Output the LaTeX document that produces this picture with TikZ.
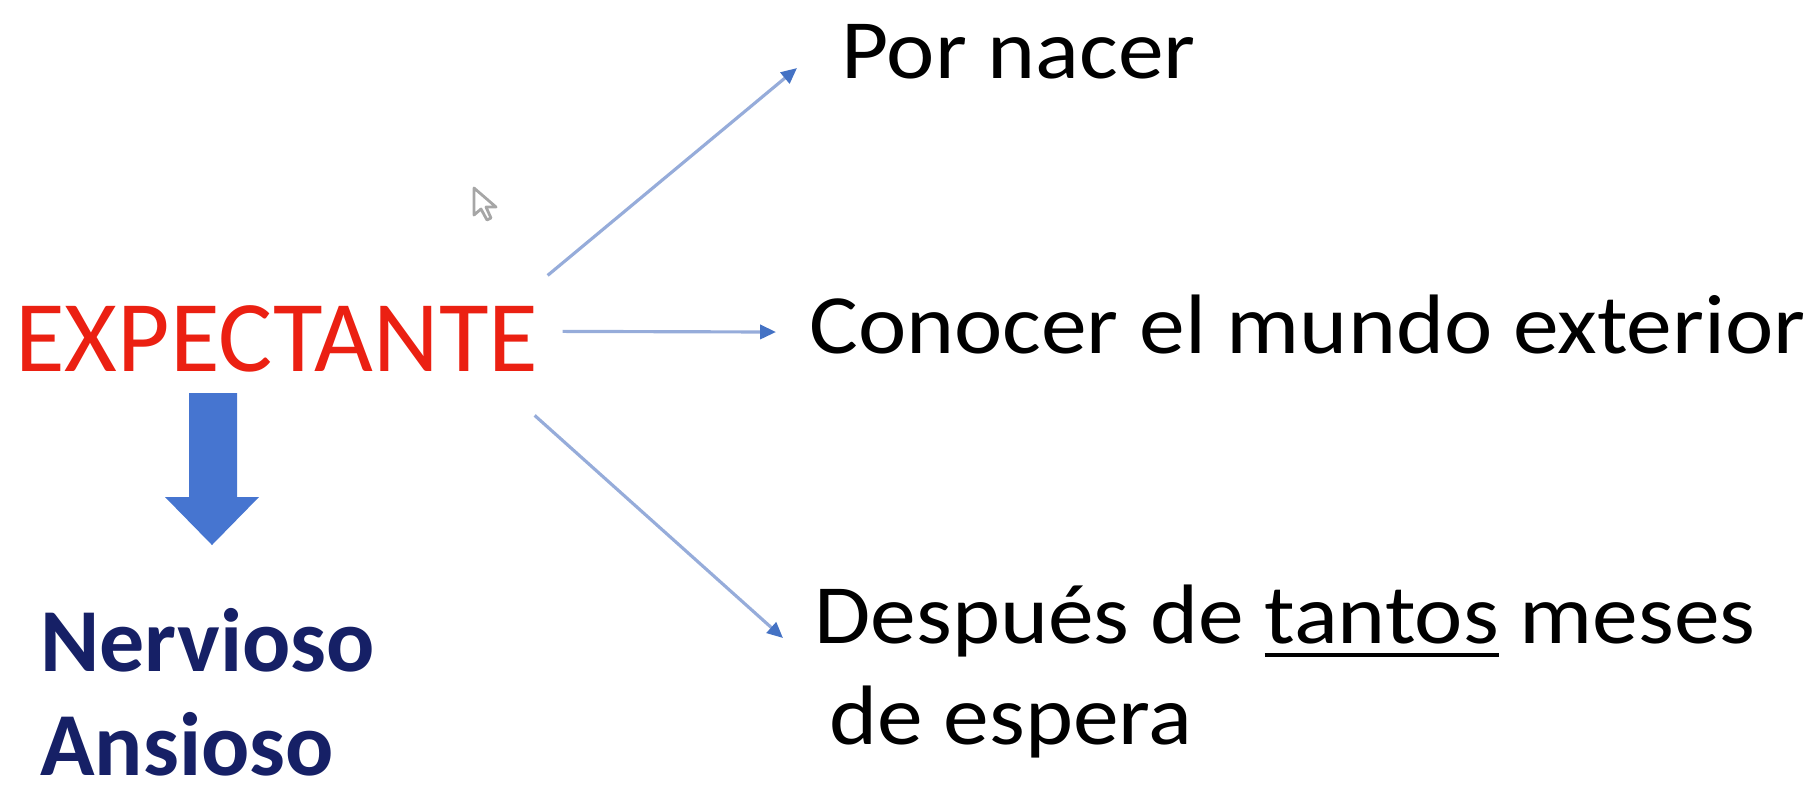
\documentclass[tikz,border=0pt]{standalone}
\usepackage{fontspec}
\setmainfont{Carlito}
\newfontfamily\slidefont[FakeStretch=1.085]{Carlito}
\usetikzlibrary{arrows.meta}

\definecolor{expred}{RGB}{235,32,18}
\definecolor{navy}{RGB}{22,32,102}
\definecolor{linkblue}{RGB}{150,172,218}
\definecolor{headblue}{RGB}{68,114,196}
\definecolor{bigblue}{RGB}{70,117,208}

\newcommand\undertext[1]{\setbox0\hbox{#1}\rlap{\rule[-4pt]{\wd0}{1.1pt}}\box0\relax}

\tikzset{
    reason/.style={anchor=base west, inner sep=0pt, font=\slidefont\fontsize{24pt}{28pt}\selectfont},
    mood/.style={anchor=base west, inner sep=0pt, text=navy, font=\fontsize{25.6pt}{30pt}\selectfont\bfseries},
    link/.style={draw=linkblue, line width=0.9pt, -{Triangle[length=4.5pt, width=4pt, color=headblue]}}
}

\begin{document}
\begin{tikzpicture}[thick, scale=1]
    \useasboundingbox (0,0) rectangle (18.18,-7.87);
    % main word
    \node[anchor=base west, inner sep=0pt, text=expred, font=\fontsize{28.9pt}{32pt}\selectfont] (expect) at (0.14,-3.71){EXPECTANTE};

    % the three reasons
    \node[reason] (nacer) at (8.40,-0.78){Por nacer};
    \node[reason] (mundo) at (8.08,-3.53){Conocer el mundo exterior};
    \node[reason] (meses) at (8.13,-6.43){Después de \undertext{tantos} meses};
    \node[reason] (espera) at (8.28,-7.44){de espera};

    \coordinate (tnacer) at (7.97,-0.68);
    \coordinate (tmundo) at (7.76,-3.32);
    \coordinate (tmeses) at (7.83,-6.38);

    \draw[link] ([shift={(0.08,0.63)}]expect.east) -- (tnacer);
    \draw[link] ([shift={(0.23,0.07)}]expect.east) -- (tmundo);
    \draw[link] ([shift={(-0.05,-0.77)}]expect.east) -- (tmeses);

    % big arrow down
    \fill[bigblue] (1.89,-3.93) -- (2.37,-3.93) -- (2.37,-4.97) -- (2.59,-4.97)
        -- (2.12,-5.45) -- (1.65,-4.97) -- (1.89,-4.97) -- cycle;

    \node[mood] (nerv) at (0.39,-6.71){Nervioso};
    \node[mood] (ansi) at (0.39,-7.75){Ansioso};

    % mouse pointer
    \draw[gray!70, line width=0.8pt, line join=round] (4.74,-1.88) -- (4.74,-2.15) -- (4.81,-2.09)
        -- (4.87,-2.20) -- (4.91,-2.18) -- (4.86,-2.07) -- (4.96,-2.07) -- cycle;
\end{tikzpicture}
\end{document}
